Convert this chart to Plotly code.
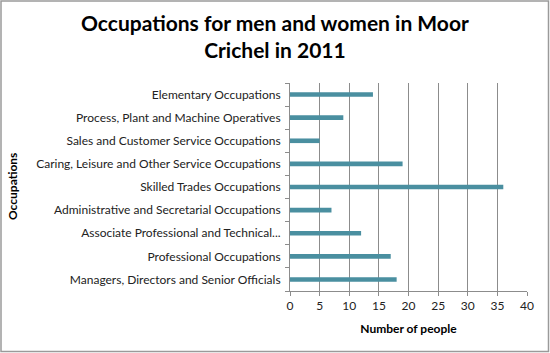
import plotly.graph_objects as go

categories = [
    "Managers, Directors and Senior Officials",
    "Professional Occupations",
    "Associate Professional and Technical...",
    "Administrative and Secretarial Occupations",
    "Skilled Trades Occupations",
    "Caring, Leisure and Other Service Occupations",
    "Sales and Customer Service Occupations",
    "Process, Plant and Machine Operatives",
    "Elementary Occupations",
]
values = [18, 17, 12, 7, 36, 19, 5, 9, 14]
x_ticks = [0, 5, 10, 15, 20, 25, 30, 35, 40]

W, H = 550, 353
L, R, T, B = 290, 23, 83, 62
pw, ph = W - L - R, H - T - B

fig = go.Figure(go.Bar(
    x=values, y=categories, orientation="h",
    marker=dict(color="#4a8fa0", line=dict(width=0)),
    width=0.2,
))

font = "Lato, 'Open Sans', sans-serif"
fig.update_layout(
    width=W, height=H,
    margin=dict(l=L, r=R, t=T, b=B),
    paper_bgcolor="white", plot_bgcolor="white",
    showlegend=False,
    font=dict(family=font, size=12, color="#222"),
)

# Title as annotation (two lines)
fig.add_annotation(
    text="<b>Occupations for men and women in Moor<br>Crichel in 2011</b>",
    xref="paper", yref="paper",
    x=(W / 2 - L) / pw, y=1 + (T - 8) / ph, xanchor="center", yanchor="top",
    showarrow=False, align="center",
    font=dict(family=font, size=21, color="black"),
)

fig.update_xaxes(
    range=[0, 40], tickvals=x_ticks, ticktext=[str(v) for v in x_ticks],
    showgrid=True, gridcolor="#8c8c8c", gridwidth=1,
    showline=True, linecolor="#8c8c8c", linewidth=1,
    ticks="outside", ticklen=4, tickcolor="#8c8c8c",
    zeroline=False,
    title=dict(text="<b>Number of people</b>", font=dict(size=12, color="black"), standoff=12),
    tickfont=dict(size=12, color="#222"),
)
fig.update_yaxes(
    showline=True, linecolor="#8c8c8c", linewidth=1,
    ticks="outside", ticklen=4, tickcolor="#8c8c8c", tickson="boundaries",
    ticklabelstandoff=6,
    showgrid=False,
    tickfont=dict(size=12, color="#222"),
    title=None,
)

# Y axis title placed as annotation
fig.add_annotation(
    text="<b>Occupations</b>", textangle=-90,
    xref="paper", yref="paper",
    x=(12 - L) / pw, y=0.5, xanchor="center", yanchor="middle",
    showarrow=False, font=dict(size=12, color="black", family=font),
)

# outer border
fig.add_shape(
    type="rect", xref="paper", yref="paper",
    x0=(1 - L) / pw, x1=(W - 1.5 - L) / pw,
    y0=-(H - 1.5 - (T + ph)) / ph, y1=1 + (T - 1) / ph,
    line=dict(color="#9a9a9a", width=1.5), layer="below",
)

fig.write_html("out.html")
